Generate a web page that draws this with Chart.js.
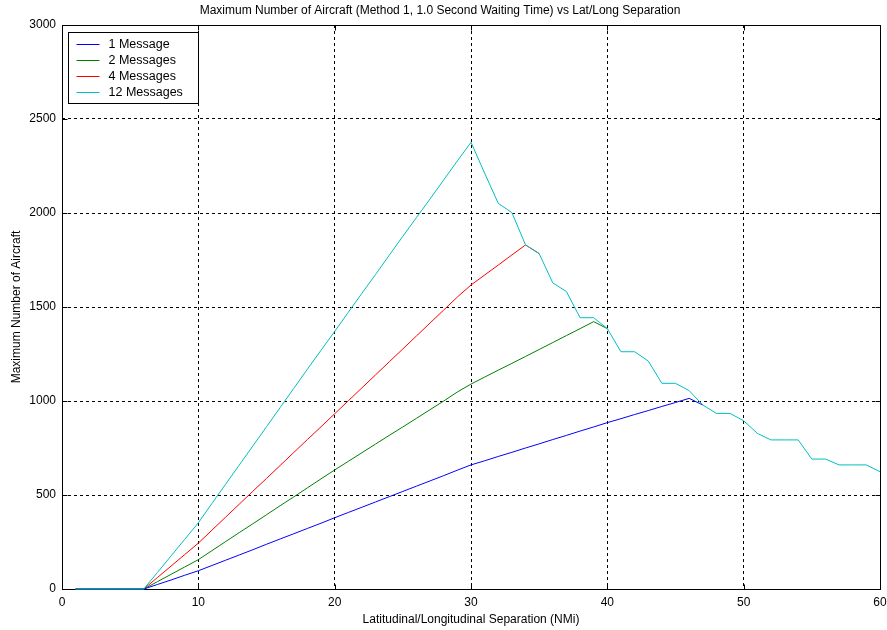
<!DOCTYPE html>
<html>
<head>
<meta charset="utf-8">
<title>Maximum Number of Aircraft vs Lat/Long Separation</title>
<script src="https://cdn.jsdelivr.net/npm/chart.js@4.4.0/dist/chart.umd.min.js"></script>
<style>
  html, body { margin: 0; padding: 0; background: #fff; }
</style>
</head>
<body>
<canvas id="chart" width="887" height="630"></canvas>
<script>
// lat/long separation (NMi), one reading per integer step
const separation = [1, 2, 3, 4, 5, 6, 7, 8, 9, 10,
  11, 12, 13, 14, 15, 16, 17, 18, 19, 20,
  21, 22, 23, 24, 25, 26, 27, 28, 29, 30,
  31, 32, 33, 34, 35, 36, 37, 38, 39, 40,
  41, 42, 43, 44, 45, 46, 47, 48, 49, 50,
  51, 52, 53, 54, 55, 56, 57, 58, 59, 60];

// each curve stops where it joins the 12 message curve (it is hidden under it after that)
const oneMessage = [0, 0, 0, 0, 0, 0, 24, 48, 73, 97,
  125, 153, 181, 209, 238, 266, 294, 322, 350, 379,
  407, 435, 463, 491, 519, 547, 575, 603, 632, 660,
  682, 705, 727, 750, 772, 795, 817, 840, 862, 885,
  906, 928, 949, 971, 992, 1014, 979];

const twoMessages = [0, 0, 0, 0, 0, 0, 39, 78, 117, 156,
  204, 252, 300, 347, 395, 443, 490, 538, 586, 633,
  679, 725, 771, 817, 862, 908, 954, 1000, 1048, 1090,
  1127, 1164, 1200, 1237, 1274, 1311, 1348, 1385, 1422, 1385];

const fourMessages = [0, 0, 0, 0, 0, 0, 61, 122, 183, 244,
  313, 382, 451, 520, 588, 657, 726, 795, 863, 932,
  1001, 1070, 1139, 1208, 1277, 1346, 1415, 1484, 1553, 1617,
  1670, 1723, 1777, 1830, 1784];

const twelveMessages = [0, 0, 0, 0, 0, 0, 88, 176, 264, 352,
  455, 557, 659, 761, 863, 965, 1067, 1169, 1270, 1370,
  1472, 1573, 1673, 1775, 1876, 1976, 2075, 2176, 2277, 2376,
  2212, 2051, 2002, 1830, 1784, 1628, 1582, 1443, 1443, 1385,
  1262, 1262, 1213, 1094, 1094, 1055, 979, 934, 934, 895,
  828, 793, 793, 793, 691, 691, 660, 660, 660, 624];

const seriesNames = ['1 Message', '2 Messages', '4 Messages', '12 Messages'];
const seriesColors = ['#0000ff', '#008000', '#ff0000', '#00bfbf'];

const FONT = '"Liberation Sans", Arial, Helvetica, sans-serif';
Chart.defaults.font.family = FONT;
Chart.defaults.font.size = 12;
Chart.defaults.color = '#000';

function toPoints(values) {
  return values.map(function(v, i) { return {x: separation[i], y: v}; });
}

// solid box round the plot with small inward ticks (drawn under the data lines)
var axesBox = {
  id: 'axesBox',
  beforeDatasetsDraw: function(chart) {
    var ctx = chart.ctx, a = chart.chartArea;
    var xs = chart.scales.x, ys = chart.scales.y;
    var l = Math.round(a.left) + 0.5, r = Math.round(a.right) + 0.5;
    var t = Math.round(a.top) + 0.5, b = Math.round(a.bottom) + 0.5;
    ctx.save();
    ctx.setLineDash([]);
    ctx.strokeStyle = '#000';
    ctx.lineWidth = 1;
    ctx.strokeRect(l, t, r - l, b - t);
    ctx.beginPath();
    xs.ticks.forEach(function(tk) {
      var px = Math.round(xs.getPixelForValue(tk.value)) + 0.5;
      ctx.moveTo(px, b); ctx.lineTo(px, b - 5);
      ctx.moveTo(px, t); ctx.lineTo(px, t + 5);
    });
    ys.ticks.forEach(function(tk) {
      var py = Math.round(ys.getPixelForValue(tk.value)) + 0.5;
      ctx.moveTo(l, py); ctx.lineTo(l + 5, py);
      ctx.moveTo(r, py); ctx.lineTo(r - 5, py);
    });
    ctx.stroke();
    ctx.restore();
  }
};

// MATLAB style legend box in the top left corner of the plot
var boxLegend = {
  id: 'boxLegend',
  afterDraw: function(chart) {
    var ctx = chart.ctx, a = chart.chartArea;
    var x0 = Math.round(a.left) + 6.5, y0 = Math.round(a.top) + 7.5;
    ctx.save();
    ctx.setLineDash([]);
    ctx.fillStyle = '#fff';
    ctx.fillRect(x0, y0, 130, 71);
    ctx.strokeStyle = '#000';
    ctx.lineWidth = 1;
    ctx.strokeRect(x0, y0, 130, 71);
    ctx.font = '12.5px ' + FONT;
    ctx.textBaseline = 'middle';
    ctx.textAlign = 'left';
    for (var i = 0; i < seriesNames.length; i++) {
      var cy = Math.round(y0 + 11 + i * 16.3) + 0.5;
      ctx.strokeStyle = seriesColors[i];
      ctx.beginPath();
      ctx.moveTo(x0 + 8, cy);
      ctx.lineTo(x0 + 31, cy);
      ctx.stroke();
      ctx.fillStyle = '#000';
      ctx.fillText(seriesNames[i], x0 + 40, cy);
    }
    ctx.restore();
  }
};

var allSeries = [oneMessage, twoMessages, fourMessages, twelveMessages];

new Chart(document.getElementById('chart'), {
  type: 'line',
  data: {
    datasets: allSeries.map(function(vals, i) {
      return {
        label: seriesNames[i],
        data: toPoints(vals),
        borderColor: seriesColors[i],
        backgroundColor: seriesColors[i],
        borderWidth: 1,
        pointRadius: 0,
        fill: false,
        tension: 0,
        clip: false,
        order: i === 3 ? 0 : 1
      };
    })
  },
  options: {
    responsive: false,
    animation: false,
    layout: { padding: { left: 0, right: 7, top: 0, bottom: 0 } },
    plugins: {
      legend: { display: false },
      tooltip: { enabled: false },
      title: {
        display: true,
        text: 'Maximum Number of Aircraft (Method 1, 1.0 Second Waiting Time) vs Lat/Long Separation',
        color: '#000',
        font: { size: 12, weight: 'normal' },
        padding: { top: 3.5, bottom: 7.1 }
      }
    },
    scales: {
      x: {
        type: 'linear',
        min: 0,
        max: 60,
        ticks: { stepSize: 10, padding: 6, maxRotation: 0, color: '#000' },
        grid: { color: '#000', lineWidth: 1, drawTicks: false },
        border: { display: false, dash: [3, 3] },
        title: {
          display: true,
          text: 'Latitudinal/Longitudinal Separation (NMi)',
          color: '#000',
          padding: { top: 0, bottom: 3 }
        },
        afterFit: function(scale) {
          scale.height = 41;
          scale.paddingLeft = 0;
          scale.paddingRight = 0;
        }
      },
      y: {
        min: 0,
        max: 3000,
        ticks: {
          stepSize: 500,
          padding: 6,
          color: '#000',
          callback: function(v) { return String(v); }
        },
        grid: { color: '#000', lineWidth: 1, drawTicks: false },
        border: { display: false, dash: [3, 3] },
        title: {
          display: true,
          text: 'Maximum Number of Aircraft',
          color: '#000',
          padding: { top: 9, bottom: 0 }
        },
        afterFit: function(scale) {
          scale.width = 62;
          scale.paddingTop = 0;
          scale.paddingBottom = 0;
        }
      }
    }
  },
  plugins: [axesBox, boxLegend]
});
</script>
</body>
</html>
